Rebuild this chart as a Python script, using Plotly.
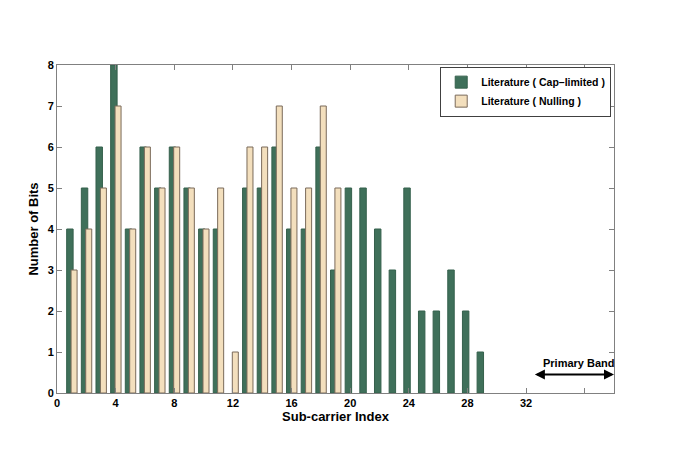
import plotly.graph_objects as go

idx = list(range(1, 30))
cap_limited = [4, 5, 6, 8, 4, 6, 5, 6, 5, 4, 4, None, 5, 5, 6, 4, 4, 6, 3, 5, 5, 4, 3, 5, 2, 2, 3, 2, 1]
nulling = [3, 4, 5, 7, 4, 6, 5, 6, 5, 4, 5, 1, 6, 6, 7, 5, 5, 7, 5] + [None] * 10
xticks = [0, 4, 8, 12, 16, 20, 24, 28, 32, 36]
xticklabels = ["0", "4", "8", "12", "16", "20", "24", "28", "32", ""]

font = "Liberation Sans"
fig = go.Figure()
fig.add_trace(go.Bar(x=idx, y=cap_limited, name="Literature ( Cap\u2013limited )",
                     offset=-0.34, width=0.44,
                     marker=dict(color="#3f705a", line=dict(color="#35604c", width=1))))
fig.add_trace(go.Bar(x=idx, y=nulling, name="Literature ( Nulling )",
                     offset=-0.04, width=0.41,
                     marker=dict(color="#f3dfbd", line=dict(color="#7a6a5a", width=1))))

fig.add_annotation(x=38, y=0.45, ax=32.5, ay=0.45, xref="x", yref="y", axref="x", ayref="y",
                   text="", showarrow=True, arrowhead=2, arrowside="end+start",
                   arrowwidth=2, arrowsize=1, arrowcolor="black")
fig.add_annotation(x=35.6, y=0.72, xref="x", yref="y", text="<b>Primary Band</b>",
                   showarrow=False, font=dict(family=font, size=11, color="black"))

axis_common = dict(showline=True, linecolor="#808080", linewidth=1, mirror="ticks",
                   ticks="inside", ticklen=5, tickcolor="#808080", showgrid=False, zeroline=False,
                   automargin=False,
                   tickfont=dict(family=font, size=11, color="black"))
fig.update_xaxes(range=[0, 38], tickvals=xticks, ticktext=["<b>%s</b>" % t if t else "" for t in xticklabels],
                 title=dict(text="<b>Sub-carrier Index</b>", font=dict(family=font, size=13, color="black"), standoff=0),
                 **axis_common)
fig.update_yaxes(range=[0, 8], tickvals=list(range(9)), ticktext=["<b>%d</b>" % v for v in range(9)],
                 title=dict(text="<b>Number of Bits</b>", font=dict(family=font, size=13, color="black"), standoff=6),
                 **axis_common)

fig.update_layout(
    width=685, height=456,
    margin=dict(l=49, r=79, t=57, b=71),
    paper_bgcolor="white", plot_bgcolor="white",
    barmode="overlay",
    font=dict(family=font, color="black"),
    legend=dict(x=0.995, y=0.995, xanchor="right", yanchor="top", bgcolor="white",
                bordercolor="#404040", borderwidth=1, tracegroupgap=0,
                font=dict(family=font, size=10.5, color="black"), itemwidth=30),
)
for t in fig.data:
    t.name = "<b>" + t.name + "</b>"

fig.write_html("out.html")
